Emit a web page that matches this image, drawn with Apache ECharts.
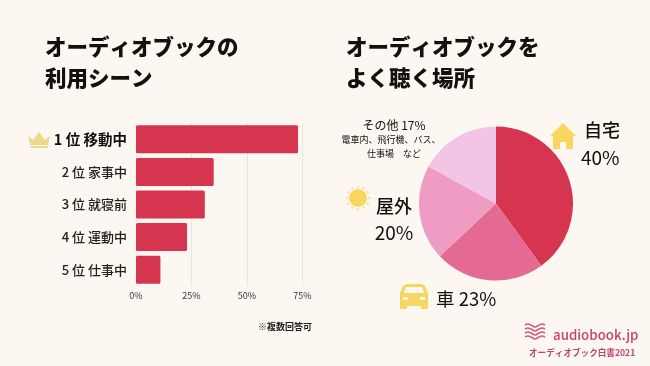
<!DOCTYPE html>
<html>
<head>
<meta charset="utf-8">
<script src="https://cdn.jsdelivr.net/npm/echarts@6/dist/echarts.min.js"></script>
<style>
html,body{margin:0;padding:0;background:#fcf8f1;}
#main{width:650px;height:366px;}
</style>
</head>
<body>
<div id="main"></div>
<script>
var font = '"Noto Sans CJK JP"';
var scenes = ['1 位 移動中', '2 位 家事中', '3 位 就寝前', '4 位 運動中', '5 位 仕事中'];
var sceneValues = [73, 35, 31, 23, 11];
var axisTicks = [0, 25, 50, 75];
var places = ['自宅', '車', '屋外', 'その他'];
var placeValues = [40, 23, 20, 17];
var placeColors = ['#d6354f', '#e56a93', '#ee9cc3', '#f2c5e6'];

var pieData = [];
for (var i = 0; i < places.length; i++) {
    pieData.push({name: places[i], value: placeValues[i], itemStyle: {color: placeColors[i]}});
}

function text(x, y, str, size, weight, color, align, lh) {
    return {
        type: 'text', x: x, y: y, silent: true,
        style: {
            text: str, font: (weight || 'normal') + ' ' + size + 'px ' + font,
            fill: color || '#111', align: align || 'left', verticalAlign: 'middle', lineHeight: lh
        }
    };
}
// small decorative icons, not data
function poly(points, x, y, color) {
    return {
        type: 'polygon', silent: true, x: x, y: y,
        shape: {points: points},
        style: {fill: color}
    };
}
function wave(x, y) {
    return {
        type: 'polyline', silent: true, x: x, y: y,
        shape: {points: [[0, 1], [3, 0], [6, 1], [10, 3], [14, 1], [17, 0], [20, 1]], smooth: 0.4},
        style: {stroke: '#d4587c', lineWidth: 1.6, fill: null}
    };
}

var yellow = '#f9d65f';
var bg = '#fcf8f1';
var sunRays = [];
for (var a = 0; a < 12; a++) {
    sunRays.push({
        type: 'circle', silent: true,
        shape: {cx: 358 + 11.3 * Math.cos(a * Math.PI / 6), cy: 198 + 11.3 * Math.sin(a * Math.PI / 6), r: 1},
        style: {fill: yellow}
    });
}

var myChart = echarts.init(document.getElementById('main'));
var option = {
    animation: false,
    backgroundColor: bg,
    grid: {left: 136, top: 123, width: 166.5, height: 163},
    xAxis: {
        type: 'value', min: 0, max: 75, interval: 25,
        axisLine: {show: false},
        axisTick: {show: false},
        splitLine: {lineStyle: {color: '#e9e5de', width: 1}},
        axisLabel: {
            margin: 5, color: '#333', fontSize: 9, fontFamily: font, hideOverlap: false,
            showMinLabel: true, showMaxLabel: true,
            formatter: function (v) { return axisTicks.indexOf(v) >= 0 ? v + '%' : ''; }
        }
    },
    yAxis: {
        type: 'category', inverse: true, data: scenes,
        axisLine: {show: false},
        axisTick: {show: false},
        axisLabel: {
            margin: 9,
            formatter: function (v, idx) {
                return idx === 0 ? '{a|' + v + '}' : '{b|' + v + '}';
            },
            rich: {
                a: {fontSize: 14.5, fontWeight: 'bold', color: '#111', fontFamily: font},
                b: {fontSize: 13, fontWeight: 500, color: '#222', fontFamily: font}
            }
        }
    },
    series: [
        {
            type: 'bar', data: sceneValues, barWidth: 28,
            itemStyle: {color: '#d6354f', borderRadius: 1.5}
        },
        {
            type: 'pie', center: [496, 203.5], radius: [0, 77], startAngle: 90, clockwise: true,
            data: pieData, label: {show: false}, labelLine: {show: false}, silent: true,
            itemStyle: {borderWidth: 0}
        }
    ],
    graphic: [
        text(45, 62.5, 'オーディオブックの\n利用シーン', 21.5, '900', '#111', 'left', 31),
        text(346, 62.5, 'オーディオブックを\nよく聴く場所', 21.5, '900', '#111', 'left', 31),
        // crown
        poly([[0, 4], [5, 8], [11, 0], [17, 8], [22, 4], [20, 13], [2, 13]], 28, 132, '#ecd88f'),
        poly([[2, 14], [20, 14], [20, 16], [2, 16]], 28, 132, '#ecd88f'),
        // house
        poly([[13, 0], [26, 13], [23, 13], [23, 26], [16, 26], [16, 19], [10, 19], [10, 26], [3, 26], [3, 13], [0, 13]], 550, 123, yellow),
        text(584, 130.5, '自宅', 18, '500', '#111', 'left'),
        text(581, 157.5, '40%', 19, 'normal', '#111', 'left'),
        // sun
        {type: 'circle', silent: true, shape: {cx: 358, cy: 198, r: 9}, style: {fill: yellow}},
        {type: 'group', children: sunRays},
        text(394, 206.5, '屋外', 18, '500', '#111', 'center'),
        text(394, 232.5, '20%', 19, 'normal', '#111', 'center'),
        // car
        poly([[6, 0], [22, 0], [25, 2], [28, 9], [28, 25], [21, 25], [21, 22], [7, 22], [7, 25], [0, 25], [0, 9], [3, 2]], 400, 284, yellow),
        poly([[6, 3], [4, 9], [24, 9], [22, 3]], 400, 284, bg),
        poly([[3, 13], [3, 16], [8, 16], [8, 13]], 400, 284, bg),
        poly([[20, 13], [20, 16], [25, 16], [25, 13]], 400, 284, bg),
        text(436, 298.5, '車 23%', 18.5, 'normal', '#111', 'left'),
        text(394, 125, 'その他 17%', 12, 'normal', '#111', 'center'),
        text(391, 140, '電車内、飛行機、バス、', 9, 'normal', '#111', 'center'),
        text(394, 154, '仕事場　など', 9, 'normal', '#111', 'center'),
        text(258, 327, '※複数回答可', 9, 'bold', '#222', 'left'),
        // logo
        wave(525, 324), wave(525, 328), wave(525, 332), wave(525, 336),
        text(553, 335, 'audiobook.jp', 13.3, '500', '#c9416a', 'left'),
        text(529, 353, 'オーディオブック白書2021', 8.6, 'bold', '#b8476b', 'left')
    ]
};
myChart.setOption(option);
</script>
</body>
</html>
